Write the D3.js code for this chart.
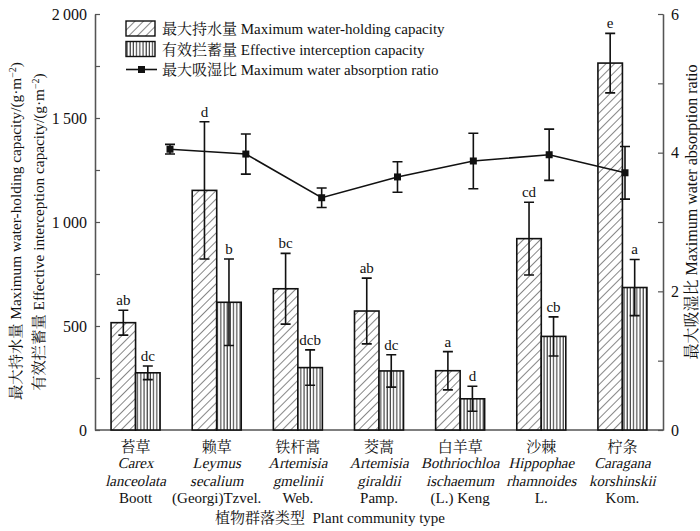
<!DOCTYPE html>
<html>
<head>
<meta charset="utf-8">
<script src="https://cdn.jsdelivr.net/npm/d3@7"></script>
<style>
  body { margin: 0; background: #fff; }
</style>
</head>
<body>
<svg id="chart" width="700" height="531"></svg>
<script>
"use strict";

const SERIF = "'Liberation Serif', 'Noto Serif CJK SC', 'Noto Sans CJK SC'";

// categories (Chinese name, genus, species, author)
const namesCN = ["苔草", "赖草", "铁杆蒿", "茭蒿", "白羊草", "沙棘", "柠条"];
const genus = ["Carex", "Leymus", "Artemisia", "Artemisia", "Bothriochloa", "Hippophae", "Caragana"];
const species = ["lanceolata", "secalium", "gmelinii", "giraldii", "ischaemum", "rhamnoides", "korshinskii"];
const authors = ["Boott", "(Georgi)Tzvel.", "Web.", "Pamp.", "(L.) Keng", "L.", "Kom."];

// series values
const maxHold = [516, 1152, 679, 572, 285, 920, 1764];
const maxHoldErr = [60, 330, 170, 158, 92, 175, 143];
const maxHoldSig = ["ab", "d", "bc", "ab", "a", "cd", "e"];

const effInt = [275, 614, 300, 284, 150, 450, 685];
const effIntErr = [33, 208, 85, 78, 60, 94, 135];
const effIntSig = ["dc", "b", "dcb", "dc", "d", "cb", "a"];

const ratio = [4.05, 3.98, 3.35, 3.65, 3.88, 3.97, 3.71];
const ratioErr = [0.07, 0.29, 0.14, 0.22, 0.40, 0.37, 0.38];

// ticks
const leftTicks = [0, 500, 1000, 1500, 2000];
const leftMinor = [250, 750, 1250, 1750];
const rightTicks = [0, 2, 4, 6];
const rightMinor = [1, 3, 5];

const margin = { top: 14, right: 37, bottom: 101, left: 95 };
const W = 700, H = 531;
const w = W - margin.left - margin.right;
const h = H - margin.top - margin.bottom;

const svg = d3.select("#chart");
const defs = svg.append("defs");

// hatch patterns
const diag = defs.append("pattern").attr("id", "diag")
    .attr("patternUnits", "userSpaceOnUse").attr("width", 6).attr("height", 6)
    .attr("patternTransform", "rotate(45)");
diag.append("rect").attr("width", 6).attr("height", 6).attr("fill", "#fff");
diag.append("line").attr("x1", 0).attr("y1", 0).attr("x2", 0).attr("y2", 6)
    .attr("stroke", "#222").attr("stroke-width", 1.1);

const vert = defs.append("pattern").attr("id", "vert")
    .attr("patternUnits", "userSpaceOnUse").attr("width", 3.2).attr("height", 6);
vert.append("rect").attr("width", 3.2).attr("height", 6).attr("fill", "#fff");
vert.append("line").attr("x1", 1).attr("y1", 0).attr("x2", 1).attr("y2", 6)
    .attr("stroke", "#222").attr("stroke-width", 1);

const g = svg.append("g").attr("transform", "translate(" + margin.left + "," + margin.top + ")");

const idx = d3.range(namesCN.length);
const x = d3.scaleBand().domain(idx).range([0, w]).padding(0);
const xLine = d3.scalePoint().domain(idx).range([75, 530]);
const yL = d3.scaleLinear().domain([0, 2000]).range([h, 0]);
const yR = d3.scaleLinear().domain([0, 6]).range([h, 0]);

const bw = x.bandwidth() * 0.302;

// axes
const axisColor = "#555";
const leftAxis = g.append("g").call(d3.axisLeft(yL).tickValues(leftTicks).tickSizeInner(-5).tickSizeOuter(0)
    .tickPadding(8).tickFormat(d => d >= 1000 ? d3.format(",")(d).replace(",", "\u2009") : d));
leftAxis.append("g").call(d3.axisLeft(yL).tickValues(leftMinor).tickSizeInner(-5).tickSizeOuter(0).tickFormat(""));
const rightAxis = g.append("g").attr("transform", "translate(" + w + ",0)")
    .call(d3.axisRight(yR).tickValues(rightTicks).tickSizeInner(-5).tickSizeOuter(0).tickPadding(8)
        .tickFormat(d3.format("d")));
rightAxis.append("g").call(d3.axisRight(yR).tickValues(rightMinor).tickSizeInner(-5).tickSizeOuter(0).tickFormat(""));
g.append("line").attr("x1", 0).attr("x2", w).attr("y1", h).attr("y2", h)
    .attr("stroke", axisColor).attr("stroke-width", 1.3);

g.selectAll(".domain").attr("stroke", axisColor).attr("stroke-width", 1.3);
g.selectAll(".tick line").attr("stroke", axisColor).attr("stroke-width", 1.2);
g.selectAll(".tick text").attr("font-size", 16).attr("fill", "#111");

// bars
function drawBars(vals, errs, sigs, fill, offset) {
    const grp = g.append("g");
    grp.selectAll("rect").data(idx).join("rect")
        .attr("x", i => x(i) + x.bandwidth() / 2 + offset)
        .attr("y", i => yL(vals[i]))
        .attr("width", bw)
        .attr("height", i => h - yL(vals[i]))
        .attr("fill", fill)
        .attr("stroke", "#111").attr("stroke-width", 1.6);
    const cx = i => x(i) + x.bandwidth() / 2 + offset + bw / 2;
    grp.selectAll(".err").data(idx).join("path")
        .attr("fill", "none").attr("stroke", "#111").attr("stroke-width", 1.6)
        .attr("d", i => {
            const t = yL(vals[i] + errs[i]), b = yL(vals[i] - errs[i]), c = cx(i);
            return "M" + (c - 5) + "," + t + "H" + (c + 5) + "M" + c + "," + t + "V" + b +
                "M" + (c - 5) + "," + b + "H" + (c + 5);
        });
    grp.selectAll(".sig").data(idx).join("text")
        .attr("x", cx).attr("y", i => yL(vals[i] + errs[i]) - 5)
        .attr("text-anchor", "middle").attr("font-size", 15).attr("fill", "#111")
        .text(i => sigs[i]);
}
drawBars(maxHold, maxHoldErr, maxHoldSig, "url(#diag)", -bw);
drawBars(effInt, effIntErr, effIntSig, "url(#vert)", 0);

// ratio line
const lg = g.append("g");
lg.append("path").datum(idx)
    .attr("fill", "none").attr("stroke", "#111").attr("stroke-width", 1.6)
    .attr("d", d3.line().x(i => xLine(i)).y(i => yR(ratio[i])));
lg.selectAll(".err").data(idx).join("path")
    .attr("fill", "none").attr("stroke", "#111").attr("stroke-width", 1.6)
    .attr("d", i => {
        const t = yR(ratio[i] + ratioErr[i]), b = yR(ratio[i] - ratioErr[i]), c = xLine(i);
        return "M" + (c - 5) + "," + t + "H" + (c + 5) + "M" + c + "," + t + "V" + b +
            "M" + (c - 5) + "," + b + "H" + (c + 5);
    });
lg.selectAll("rect").data(idx).join("rect")
    .attr("x", i => xLine(i) - 3.5).attr("y", i => yR(ratio[i]) - 3.5)
    .attr("width", 7).attr("height", 7).attr("fill", "#111");

// x category labels (latin names slanted by skew so the serif face is kept)
const xl = g.append("g").attr("transform", "translate(0," + h + ")");
const lab = xl.selectAll("g").data(idx).join("g")
    .attr("transform", i => "translate(" + (x(i) + x.bandwidth() / 2) + ",0)");
lab.append("text").attr("y", 22).attr("text-anchor", "middle").attr("font-size", 15)
    .text(i => namesCN[i]);
lab.append("text").attr("transform", "translate(0,38) skewX(-13)").attr("text-anchor", "middle")
    .attr("font-size", 15).text(i => genus[i]);
lab.append("text").attr("transform", "translate(0,56) skewX(-13)").attr("text-anchor", "middle")
    .attr("font-size", 15).text(i => species[i]);
lab.append("text").attr("y", 73).attr("text-anchor", "middle").attr("font-size", 15)
    .text(i => authors[i]);

svg.append("text").attr("x", 330).attr("y", 523).attr("text-anchor", "middle").attr("font-size", 15)
    .style("white-space", "pre")
    .text("植物群落类型  Plant community type");

// axis titles
svg.append("text").attr("transform", "translate(21,231) rotate(-90)")
    .attr("text-anchor", "middle").attr("font-size", 15.3)
    .html("最大持水量 Maximum water-holding capacity/(g·m<tspan dy='-5' font-size='10'>−2</tspan><tspan dy='5'>)</tspan>");
svg.append("text").attr("transform", "translate(44,232) rotate(-90)")
    .attr("text-anchor", "middle").attr("font-size", 15.3)
    .html("有效拦蓄量 Effective interception capacity/(g·m<tspan dy='-5' font-size='10'>−2</tspan><tspan dy='5'>)</tspan>");
svg.append("text").attr("transform", "translate(697,212) rotate(-90)")
    .attr("text-anchor", "middle").attr("font-size", 16)
    .text("最大吸湿比 Maximum water absorption ratio");

// legend
const legendItems = ["最大持水量 Maximum water-holding capacity", "有效拦蓄量 Effective interception capacity", "最大吸湿比 Maximum water absorption ratio"];
const legendFills = ["url(#diag)", "url(#vert)", null];
const leg = svg.append("g").attr("transform", "translate(126,21)");
const li = leg.selectAll("g").data(legendItems).join("g")
    .attr("transform", (d, i) => "translate(0," + (i * 20.5) + ")");
li.filter((d, i) => legendFills[i]).append("rect")
    .attr("width", 29).attr("height", 15)
    .attr("fill", (d, i) => legendFills[i]).attr("stroke", "#111").attr("stroke-width", 1.4);
li.filter((d, i) => !legendFills[i]).append("line")
    .attr("x1", 0).attr("x2", 31).attr("y1", 7.5).attr("y2", 7.5).attr("stroke", "#111").attr("stroke-width", 1.6);
li.filter((d, i) => !legendFills[i]).append("rect")
    .attr("x", 12).attr("y", 4).attr("width", 7).attr("height", 7).attr("fill", "#111");
li.append("text").attr("x", 36).attr("y", 13).attr("font-size", 15).attr("fill", "#111").text(d => d);

// serif font on every text
svg.selectAll("text").style("font-family", SERIF).style("fill", "#111");
</script>
</body>
</html>
